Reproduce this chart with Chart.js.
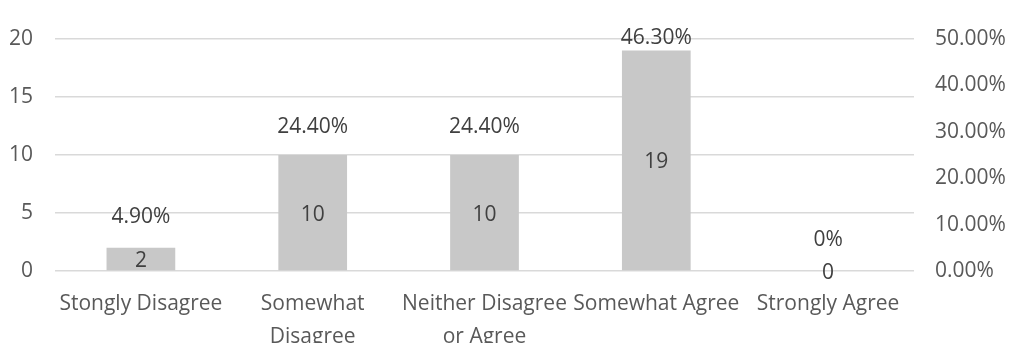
<!DOCTYPE html>
<html>
<head>
<meta charset="utf-8">
<script src="https://cdn.jsdelivr.net/npm/chart.js@4/dist/chart.umd.min.js"></script>
<style>
  html, body { margin: 0; padding: 0; background: #ffffff; }
  #wrap { width: 1015px; height: 343px; }
</style>
</head>
<body>
<div id="wrap"><canvas id="c" width="1015" height="343"></canvas></div>
<script>
// Survey responses: counts per answer and share of all responses
const categories = [
  'Stongly Disagree',
  ['Somewhat', 'Disagree'],
  ['Neither Disagree', 'or Agree'],
  'Somewhat Agree',
  'Strongly Agree'
];
const counts = [2, 10, 10, 19, 0];
const percents = [4.9, 24.4, 24.4, 46.3, 0];
const countTicks = [0, 5, 10, 15, 20];
const percentTicks = [0, 10, 20, 30, 40, 50];

const FONT = '"Open Sans", Lato, sans-serif';
const SIZE = 21;
const TEXT = '#595959';

// Writes the count inside each bar and the share above it
const valueLabels = {
  id: 'valueLabels',
  afterDatasetsDraw(chart) {
    const ctx = chart.ctx;
    ctx.save();
    ctx.font = SIZE + 'px ' + FONT;
    ctx.fillStyle = '#404040';
    ctx.textAlign = 'center';
    ctx.textBaseline = 'middle';
    const bars = chart.getDatasetMeta(0).data;
    bars.forEach((bar, i) => {
      const mid = (bar.y + bar.base) / 2;
      ctx.fillText(String(counts[i]), bar.x, mid + 2);
    });
    const pts = chart.getDatasetMeta(1).data;
    pts.forEach((p, i) => {
      const txt = percents[i] === 0 ? '0%' : percents[i].toFixed(2) + '%';
      const y = Math.max(p.y - 31, chart.chartArea.top - 1);
      ctx.fillText(txt, p.x, y);
    });
    ctx.restore();
  }
};

new Chart(document.getElementById('c'), {
  type: 'bar',
  data: {
    labels: categories,
    datasets: [
      {
        label: 'Count',
        data: counts,
        backgroundColor: '#c8c8c8',
        yAxisID: 'y',
        categoryPercentage: 0.8,
        barPercentage: 0.5,
        order: 2
      },
      {
        type: 'line',
        label: 'Percent',
        data: percents,
        yAxisID: 'y1',
        showLine: false,
        pointRadius: 0,
        pointHoverRadius: 0,
        order: 1
      }
    ]
  },
  options: {
    responsive: false,
    animation: false,
    events: [],
    layout: { padding: { top: 39, bottom: 0, left: 0, right: 0 } },
    plugins: {
      legend: { display: false },
      tooltip: { enabled: false }
    },
    scales: {
      x: {
        grid: { display: false },
        border: { display: false },
        ticks: {
          color: TEXT,
          font: { family: FONT, size: SIZE, lineHeight: 1.6 },
          maxRotation: 0,
          autoSkip: false,
          padding: 8
        },
        afterFit(s) { s.height = 72; }
      },
      y: {
        position: 'left',
        min: 0,
        max: 20,
        afterBuildTicks(s) { s.ticks = countTicks.map(v => ({ value: v })); },
        grid: { color: '#d9d9d9', lineWidth: 1.5, drawTicks: false },
        border: { display: false },
        ticks: {
          color: TEXT,
          font: { family: FONT, size: SIZE },
          padding: 22
        },
        afterFit(s) { s.width = 55; }
      },
      y1: {
        position: 'right',
        min: 0,
        max: 50,
        afterBuildTicks(s) { s.ticks = percentTicks.map(v => ({ value: v })); },
        grid: { display: false, drawTicks: false },
        border: { display: false },
        ticks: {
          color: TEXT,
          font: { family: FONT, size: SIZE },
          padding: 21,
          callback: v => v.toFixed(2) + '%'
        },
        afterFit(s) { s.width = 101; }
      }
    }
  },
  plugins: [valueLabels]
});
</script>
</body>
</html>
